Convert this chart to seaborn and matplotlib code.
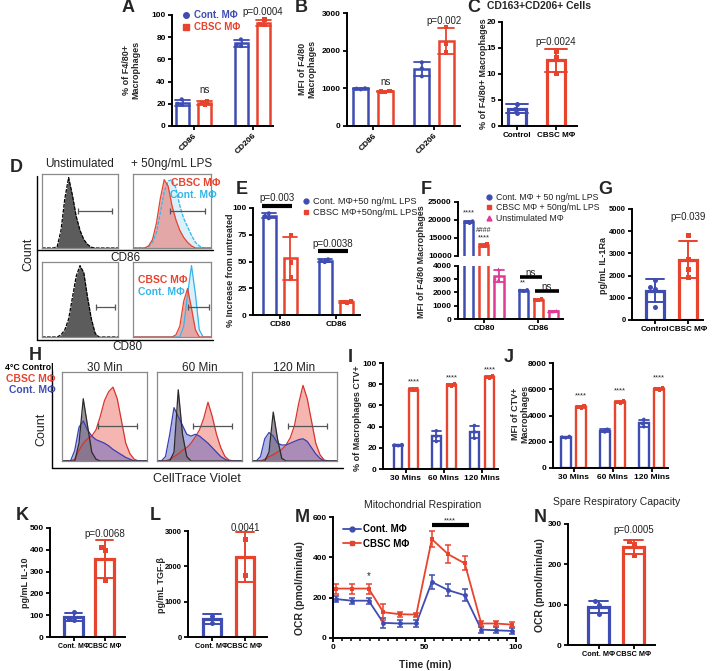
import matplotlib
matplotlib.use("Agg")
import matplotlib.pyplot as plt
import seaborn as sns
import numpy as np
import pandas as pd
from matplotlib.lines import Line2D

# ------------------------------------------------------------------ data
A_CATS = ["CD86", "CD206"]
A_CONT = [[24, 20, 19], [78, 72, 73]]
A_CBSC = [[22.5, 21, 19], [96, 92, 91]]

B_CATS = ["CD86", "CD206"]
B_CONT = [[1000, 990, 975], [1690, 1530, 1320]]
B_CBSC = [[930, 915, 905], [2620, 2190, 1950]]

C_CATS = ["Control", "CBSC MΦ"]
C_VALS = [[4.2, 3.35, 2.5], [14.4, 13.3, 10.2]]

E_CATS = ["CD80", "CD86"]
E_CONT = [[95, 92.5, 90.5], [52, 51, 49.5]]
E_CBSC = [[75, 49, 35], [13, 12.5, 11]]

F_CATS = ["CD80", "CD86"]
F_CONT = [[19700, 19400, 19100], [2200, 2150, 2100]]
F_CBSC = [[13300, 12900, 12600], [1500, 1450, 1400]]
F_UNST = [[3750, 3050, 2950], [620, 580, 560]]

G_CATS = ["Control", "CBSC MΦ"]
G_VALS = [[1800, 1500, 1400, 600], [3850, 2750, 2300, 1950]]

I_CATS = ["30 Mins", "60 Mins", "120 Mins"]
I_CONT = [[23, 22.5, 22], [36, 31, 26], [41, 35, 29]]
I_CBSC = [[76, 75, 74], [80, 79, 78], [87.5, 86.5, 85.5]]

J_CATS = ["30 Mins", "60 Mins", "120 Mins"]
J_CONT = [[2400, 2350, 2300], [2950, 2800, 2750], [3700, 3400, 3150]]
J_CBSC = [[4750, 4650, 4550], [5100, 5000, 4950], [6100, 6000, 5950]]

K_CATS = ["Cont. MΦ", "CBSC MΦ"]
K_VALS = [[115, 82, 79], [415, 400, 260]]

L_CATS = ["Cont. MΦ", "CBSC MΦ"]
L_VALS = [[600, 410], [2770, 1760]]

M_TIME = [1.5, 10.5, 19.5, 27.5, 36.5, 45.5, 54, 63, 72, 81, 89, 98]
M_CONT = [193, 185, 185, 75, 72, 72, 278, 237, 212, 42, 38, 35]
M_CONT_ERR = [15, 14, 14, 25, 18, 18, 35, 30, 30, 15, 15, 15]
M_CBSC = [245, 245, 245, 128, 118, 116, 490, 415, 370, 72, 72, 66]
M_CBSC_ERR = [25, 25, 25, 40, 12, 10, 40, 45, 35, 12, 12, 12]

N_CATS = ["Cont. MΦ", "CBSC MΦ"]
N_VALS = [[108, 98, 77], [257, 250, 224]]

# flow histograms (relative counts on a 0-100 fluorescence grid, step 5)
HIST_X = list(range(0, 101, 5))
D86_UNST = [0, 0, 0, 0, 0.02, 0.25, 0.7, 1.0, 0.75, 0.45, 0.25, 0.12, 0.05, 0.01, 0, 0, 0, 0, 0, 0, 0]
D86_CBSC = [0, 0, 0, 0, 0.03, 0.12, 0.35, 0.7, 0.97, 0.88, 0.6, 0.4, 0.25, 0.15, 0.08, 0.03, 0, 0, 0, 0, 0]
D86_CONT = [0, 0, 0, 0, 0.02, 0.08, 0.22, 0.5, 0.8, 0.95, 0.97, 0.85, 0.6, 0.42, 0.3, 0.18, 0.08, 0.03, 0, 0, 0]
D80_UNST = [0, 0, 0, 0, 0, 0.03, 0.1, 0.25, 0.55, 0.85, 1.0, 0.9, 0.55, 0.25, 0.05, 0, 0, 0, 0, 0, 0]
D80_CBSC = [0, 0, 0, 0, 0, 0, 0, 0, 0, 0, 0, 0.03, 0.15, 0.5, 0.68, 0.4, 0.1, 0, 0, 0, 0]
D80_CONT = [0, 0, 0, 0, 0, 0, 0, 0, 0, 0, 0, 0, 0, 0.15, 0.6, 1.0, 0.6, 0.1, 0, 0, 0]

H30_4C = [0, 0, 0, 0, 0.2, 0.7, 0.4, 0.1, 0.02, 0, 0, 0, 0, 0, 0, 0, 0, 0, 0, 0, 0]
H30_CONT = [0, 0, 0, 0.12, 0.38, 0.45, 0.35, 0.28, 0.24, 0.22, 0.2, 0.17, 0.13, 0.1, 0.07, 0.04, 0.02, 0, 0, 0, 0]
H30_CBSC = [0, 0, 0, 0.02, 0.12, 0.2, 0.25, 0.28, 0.35, 0.5, 0.68, 0.78, 0.83, 0.7, 0.45, 0.2, 0.08, 0.02, 0, 0, 0]
H60_4C = [0, 0, 0, 0, 0.1, 0.8, 0.3, 0.05, 0, 0, 0, 0, 0, 0, 0, 0, 0, 0, 0, 0, 0]
H60_CONT = [0, 0, 0.05, 0.3, 0.6, 0.5, 0.4, 0.3, 0.28, 0.3, 0.28, 0.24, 0.2, 0.15, 0.1, 0.05, 0.02, 0, 0, 0, 0]
H60_CBSC = [0, 0, 0, 0.02, 0.05, 0.08, 0.12, 0.15, 0.2, 0.27, 0.35, 0.48, 0.66, 0.5, 0.3, 0.15, 0.05, 0.01, 0, 0, 0]
H120_4C = [0, 0, 0, 0, 0.1, 0.55, 0.25, 0.03, 0, 0, 0, 0, 0, 0, 0, 0, 0, 0, 0, 0, 0]
H120_CONT = [0, 0, 0.05, 0.25, 0.32, 0.28, 0.2, 0.18, 0.18, 0.2, 0.22, 0.24, 0.25, 0.22, 0.15, 0.08, 0.03, 0, 0, 0, 0]
H120_CBSC = [0, 0, 0, 0.02, 0.05, 0.07, 0.1, 0.13, 0.18, 0.26, 0.4, 0.65, 0.85, 0.7, 0.45, 0.2, 0.07, 0.01, 0, 0, 0]

# ------------------------------------------------------------------ style
BLUE = "#3F4DB2"
RED = "#E8432D"
LBLUE = "#33B5EA"
MAG = "#E03A94"
TXT = "#222222"

sns.set_style("ticks")
plt.rcParams["font.family"] = ["Liberation Sans", "DejaVu Sans"]
plt.rcParams["axes.linewidth"] = 1.4
plt.rcParams["axes.edgecolor"] = "black"
plt.rcParams["xtick.color"] = "black"
plt.rcParams["ytick.color"] = "black"

W, H = 716, 671
fig = plt.figure(figsize=(W / 100, H / 100), dpi=100)


def axpx(x0, y0, x1, y1):
    return fig.add_axes([x0 / W, 1 - y1 / H, (x1 - x0) / W, (y1 - y0) / H])


def ftext(x, y, s, **kw):
    kw.setdefault("ha", "center")
    kw.setdefault("va", "center")
    fig.text(x / W, 1 - y / H, s, **kw)


def fline(xs, ys, **kw):
    fig.add_artist(Line2D([x / W for x in xs], [1 - y / H for y in ys],
                          transform=fig.transFigure, **kw))


def style(ax, fs=6, xfs=None):
    sns.despine(ax=ax)
    ax.tick_params(labelsize=fs, length=3, width=1.3, pad=1.5)
    if xfs:
        ax.tick_params(axis="x", labelsize=xfs)
    for t in ax.get_xticklabels() + ax.get_yticklabels():
        t.set_fontweight("bold")
    ax.set_xlabel("")
    ax.set_ylabel("")


def grouped(ax, cats, series, names, colors, markers, width, gap,
            msize=3.0, lw=1.8, cap=0.5):
    rows = []
    for name, vals in zip(names, series):
        for c, reps in zip(cats, vals):
            for v in reps:
                rows.append({"cat": c, "grp": name, "val": v})
    df = pd.DataFrame(rows)
    pal = dict(zip(names, colors))
    sns.barplot(data=df, x="cat", y="val", hue="grp", order=cats, hue_order=names,
                palette=pal, fill=False, errorbar="sd", capsize=cap, width=width,
                gap=gap, linewidth=lw, saturation=1, err_kws={"linewidth": 1.3},
                legend=False, ax=ax)
    for name, m in zip(names, markers):
        sns.swarmplot(data=df[df.grp == name], x="cat", y="val", hue="grp", order=cats,
                      hue_order=names, palette=pal, dodge=True, marker=m, size=msize,
                      legend=False, ax=ax, zorder=5)


def single(ax, cats, vals, colors, markers, width, msize=3.6, lw=2.3, cap=0.55):
    rows = []
    for c, reps in zip(cats, vals):
        for v in reps:
            rows.append({"cat": c, "val": v})
    df = pd.DataFrame(rows)
    pal = dict(zip(cats, colors))
    sns.barplot(data=df, x="cat", y="val", hue="cat", order=cats, hue_order=cats,
                palette=pal, fill=False, errorbar="sd", capsize=cap, width=width,
                linewidth=lw, saturation=1, err_kws={"linewidth": 1.4},
                legend=False, ax=ax)
    for c, col, m in zip(cats, colors, markers):
        sns.swarmplot(data=df[df.cat == c], x="cat", y="val", order=cats, color=col,
                      marker=m, size=msize, ax=ax, zorder=5)


def letter(x, y, s):
    ftext(x, y, s, fontsize=13, fontweight="bold")


def ylab(x, y, s, fs=6.5):
    ftext(x, y, s, rotation=90, fontsize=fs, fontweight="bold", linespacing=1.0)


def legend(ax, items, x, y, color_text=None, fs=7, weight="bold", spacing=0.25):
    handles = [Line2D([], [], color=c, marker=m, ls=ls, ms=ms, lw=1.3, label=l)
               for l, c, m, ls, ms in items]
    lg = ax.legend(handles=handles, loc="upper left", bbox_to_anchor=(x / W, 1 - y / H),
                   bbox_transform=fig.transFigure, frameon=False,
                   prop=dict(weight=weight, size=fs), handletextpad=0.3, borderpad=0,
                   labelspacing=spacing, handlelength=1.0 if items[0][3] == "" else 1.8,
                   borderaxespad=0)
    for t, it in zip(lg.get_texts(), items):
        t.set_color(color_text if color_text else it[1])
    return lg


# ------------------------------------------------------------------ A
axA = axpx(172, 15, 273, 126)
grouped(axA, A_CATS, [A_CONT, A_CBSC], ["Cont. MΦ", "CBSC MΦ"], [BLUE, RED], ["o", "s"],
        width=0.745, gap=0.4)
axA.set_ylim(0, 100)
axA.set_yticks(range(0, 101, 20))
axA.set_xlim(-0.364, 1.343)
axA.set_xticks([0, 1])
axA.set_xticklabels(A_CATS, rotation=45, ha="right", rotation_mode="anchor")
style(axA)
axA.text(0.19, 32, "ns", ha="center", va="center", fontsize=7, color=TXT)
axA.text(1.17, 103, "p=0.0004", ha="center", va="center", fontsize=7, color=TXT, clip_on=False)
legend(axA, [("Cont. MΦ", BLUE, "o", "", 4), ("CBSC MΦ", RED, "s", "", 4)], 181, 10)
letter(128, 8, "A")
ylab(131, 70, "% of F4/80+\nMacrophages")

# ------------------------------------------------------------------ B
axB = axpx(347, 13, 460, 126)
grouped(axB, B_CATS, [B_CONT, B_CBSC], ["Cont. MΦ", "CBSC MΦ"], [BLUE, RED], ["o", "s"],
        width=0.79, gap=0.38)
axB.set_ylim(0, 3000)
axB.set_yticks(range(0, 3001, 1000))
axB.set_xlim(-0.426, 1.426)
axB.set_xticks([0, 1])
axB.set_xticklabels(B_CATS, rotation=45, ha="right", rotation_mode="anchor")
style(axB)
axB.text(0.2, 1170, "ns", ha="center", va="center", fontsize=7, color=TXT)
axB.text(1.16, 2785, "p=0.002", ha="center", va="center", fontsize=7, color=TXT)
letter(301, 8, "B")
ylab(307, 69, "MFI of F4/80\nMacrophages")

# ------------------------------------------------------------------ C
axC = axpx(502, 22, 577, 126)
single(axC, C_CATS, C_VALS, [BLUE, RED], ["o", "s"], width=0.46)
axC.set_ylim(0, 20)
axC.set_yticks(range(0, 21, 5))
axC.set_xlim(-0.385, 1.54)
style(axC, xfs=5.8)
axC.text(1.0, 16.1, "p=0.0024", ha="center", va="center", fontsize=7, color=TXT)
letter(474, 8, "C")
ftext(487, 6, "CD163+CD206+ Cells", ha="left", fontsize=7.5, fontweight="bold")
ylab(483, 74, "% of F4/80+ Macrophages")

# ------------------------------------------------------------------ D histograms
def hist_box(ax, layers, gate_y, gate_x):
    for ys, fc, ec, alpha, ls in layers:
        ax.fill_between(HIST_X, ys, color=fc, alpha=alpha, lw=0)
        ax.plot(HIST_X, ys, color=ec, lw=0.9, ls=ls)
    ax.plot(gate_x, [gate_y, gate_y], color="#555555", lw=0.9,
            marker="|", ms=4, mew=0.9)
    ax.set_xlim(0, 100)
    ax.set_ylim(0, 1.05)
    ax.set_xticks([])
    ax.set_yticks([])
    for s in ax.spines.values():
        s.set_color("#8a8a8a")
        s.set_linewidth(0.9)


GREY_LAYER = ("#5c5c5c", "black", 1.0, (0, (3, 1)))
d1 = axpx(42, 174, 118, 248)
hist_box(d1, [(D86_UNST,) + GREY_LAYER], 0.52, [47, 92])
d2 = axpx(133, 174, 211, 248)
hist_box(d2, [(D86_CONT, LBLUE, LBLUE, 0.18, (0, (3, 1))),
              (D86_CBSC, "#E88F8C", RED, 0.75, "-")], 0.52, [48, 92])
d3 = axpx(42, 262, 118, 337)
hist_box(d3, [(D80_UNST,) + GREY_LAYER], 0.42, [71, 96])
d4 = axpx(133, 262, 211, 337)
hist_box(d4, [(D80_CONT, LBLUE, LBLUE, 0.18, "-"),
              (D80_CBSC, "#E88F8C", RED, 0.75, "-")], 0.42, [71, 97])
fline([37, 213], [250, 250], color="black", lw=1.0)
fline([37, 37], [176, 340], color="black", lw=1.0)
fline([37, 213], [340, 340], color="black", lw=1.0)
ftext(79, 164, "Unstimulated", fontsize=8.5, color=TXT)
ftext(172, 164, "+ 50ng/mL LPS", fontsize=8.5, color=TXT)
ftext(196, 183, "CBSC MΦ", fontsize=7.5, fontweight="bold", color=RED)
ftext(193, 195, "Cont. MΦ", fontsize=7.5, fontweight="bold", color=LBLUE)
ftext(163, 280, "CBSC MΦ", fontsize=7.5, fontweight="bold", color=RED)
ftext(161, 292, "Cont. MΦ", fontsize=7.5, fontweight="bold", color=LBLUE)
ftext(125, 258, "CD86", fontsize=8.5, color=TXT)
ftext(127, 347, "CD80", fontsize=8.5, color=TXT)
ftext(28, 254, "Count", rotation=90, fontsize=9, color=TXT)
letter(16, 167, "D")

# ------------------------------------------------------------------ E
axE = axpx(253, 208, 360, 315)
grouped(axE, E_CATS, [E_CONT, E_CBSC], ["Cont. MΦ+50 ng/mL LPS", "CBSC MΦ+50ng/mL LPS"],
        [BLUE, RED], ["o", "s"], width=0.75, gap=0.38)
axE.set_ylim(0, 100)
axE.set_yticks(range(0, 101, 25))
axE.set_xlim(-0.482, 1.43)
style(axE)
axE.plot([-0.32, 0.21], [102, 102], color="black", lw=3, clip_on=False, solid_capstyle="butt")
axE.text(-0.05, 109, "p=0.003", ha="center", va="center", fontsize=7, color=TXT, clip_on=False)
axE.plot([0.68, 1.21], [60, 60], color="black", lw=3, solid_capstyle="butt")
axE.text(0.95, 66, "p=0.0038", ha="center", va="center", fontsize=7, color=TXT)
legend(axE, [("Cont. MΦ+50 ng/mL LPS", BLUE, "o", "", 3.5),
             ("CBSC MΦ+50ng/mL LPS", RED, "s", "", 3.5)], 301, 197,
       color_text=TXT, fs=6.7, weight="normal", spacing=0.2)
letter(242, 190, "E")
ylab(231, 270, "% Increase from untreated")

# ------------------------------------------------------------------ F (broken axis)
F_NAMES = ["Cont. MΦ + 50 ng/mL LPS", "CBSC MΦ + 50ng/mL LPS", "Unstimulated MΦ"]
axFt = axpx(458, 202, 563, 256)
axFb = axpx(458, 266, 563, 319)
for ax in (axFt, axFb):
    grouped(ax, F_CATS, [F_CONT, F_CBSC, F_UNST], F_NAMES, [BLUE, RED, MAG],
            ["o", "s", "^"], width=0.833, gap=0.4, msize=2.6)
    ax.set_xlim(-0.48, 1.46)
axFt.set_ylim(10000, 25000)
axFt.set_yticks(range(10000, 25001, 5000))
axFb.set_ylim(0, 4000)
axFb.set_yticks(range(0, 4001, 1000))
style(axFt)
style(axFb)
axFt.spines["bottom"].set_visible(False)
axFt.tick_params(axis="x", bottom=False, labelbottom=False)
axFt.text(-0.278, 21900, "****", ha="center", va="center", fontsize=5.5)
axFt.text(0.0, 17000, "####", ha="center", va="center", fontsize=5)
axFt.text(0.0, 15000, "****", ha="center", va="center", fontsize=5.5)
axFb.text(0.722, 2750, "**", ha="center", va="center", fontsize=5.5)
axFb.plot([0.66, 1.08], [3180, 3180], color="black", lw=2.6, solid_capstyle="butt")
axFb.text(0.87, 3500, "ns", ha="center", va="center", fontsize=7, color=TXT)
axFb.plot([0.94, 1.38], [2110, 2110], color="black", lw=2.6, solid_capstyle="butt", clip_on=False)
axFb.text(1.16, 2380, "ns", ha="center", va="center", fontsize=7, color=TXT)
legend(axFt, [(F_NAMES[0], BLUE, "o", "", 3.5), (F_NAMES[1], RED, "s", "", 3.5),
              (F_NAMES[2], MAG, "^", "", 3.5)], 485, 193,
       color_text=TXT, fs=6.3, weight="normal", spacing=0.15)
letter(426, 190, "F")
ylab(421, 262, "MFI of F4/80 Macrophages")

# ------------------------------------------------------------------ G
axG = axpx(632, 209, 703, 320)
single(axG, G_CATS, G_VALS, [BLUE, RED], ["o", "s"], width=0.55)
axG.set_ylim(0, 5000)
axG.set_yticks(range(0, 5001, 1000))
axG.set_xlim(-0.7, 1.45)
style(axG, fs=5.5, xfs=5.8)
axG.text(1.0, 4640, "p=0.039", ha="center", va="center", fontsize=7, color=TXT)
letter(605, 190, "G")
ylab(603, 266, "pg/mL IL-1Ra")

# ------------------------------------------------------------------ H histograms
H_SETS = [(62, 147, "30 Min", H30_4C, H30_CONT, H30_CBSC),
          (157, 242, "60 Min", H60_4C, H60_CONT, H60_CBSC),
          (252, 337, "120 Min", H120_4C, H120_CONT, H120_CBSC)]
for x0, x1, title, h4, hc, hr in H_SETS:
    ax = axpx(x0, 372, x1, 461)
    hist_box(ax, [(hr, "#EE7B72", "#D9342B", 0.55, "-"),
                  (hc, "#5157C0", "#3A3FB0", 0.45, "-"),
                  (h4, "#7E6F82", "#2a2a2a", 0.75, "-")], 0.39, [42, 88])
    ax.set_ylim(0, 1.0)
    ftext((x0 + x1) / 2, 368, title, fontsize=8.5, color=TXT)
fline([52, 343], [468, 468], color="black", lw=1.0)
fline([52, 52], [370, 468], color="black", lw=1.0)
ftext(54, 368, "4°C Control", ha="right", fontsize=6.3, fontweight="bold", color="black")
ftext(56, 379, "CBSC MΦ", ha="right", fontsize=7.5, fontweight="bold", color=RED)
ftext(56, 390, "Cont. MΦ", ha="right", fontsize=7.5, fontweight="bold", color=BLUE)
ftext(41, 429, "Count", rotation=90, fontsize=9, color=TXT)
ftext(197, 479, "CellTrace Violet", fontsize=9, color=TXT)
letter(35, 355, "H")

# ------------------------------------------------------------------ I
axI = axpx(383, 363, 498, 469)
grouped(axI, I_CATS, [I_CONT, I_CBSC], ["Cont. MΦ", "CBSC MΦ"], [BLUE, RED], ["o", "s"],
        width=0.8, gap=0.45, msize=2.6, lw=1.7)
axI.set_ylim(0, 100)
axI.set_yticks(range(0, 101, 20))
axI.set_xlim(-0.6, 2.42)
style(axI)
for i, reps in enumerate(I_CBSC):
    axI.text(i + 0.2, np.mean(reps) + 7, "****", ha="center", va="center", fontsize=5.5)
letter(350, 357, "I")
ylab(358, 418, "% of Macrophages CTV+")

# ------------------------------------------------------------------ J
axJ = axpx(553, 363, 668, 468)
grouped(axJ, J_CATS, [J_CONT, J_CBSC], ["Cont. MΦ", "CBSC MΦ"], [BLUE, RED], ["o", "s"],
        width=0.77, gap=0.33, msize=2.6, lw=1.7)
axJ.set_ylim(0, 8000)
axJ.set_yticks(range(0, 8001, 2000))
axJ.set_xlim(-0.526, 2.42)
style(axJ)
for i, reps in enumerate(J_CBSC):
    axJ.text(i + 0.19, np.mean(reps) + 850, "****", ha="center", va="center", fontsize=5.5)
letter(509, 358, "J")
ylab(520, 414, "MFI of CTV+\nMacrophages")

# ------------------------------------------------------------------ K
axK = axpx(50, 528, 125, 637)
single(axK, K_CATS, K_VALS, [BLUE, RED], ["o", "s"], width=0.61)
axK.set_ylim(0, 500)
axK.set_yticks(range(0, 501, 100))
axK.set_xlim(-0.77, 1.65)
style(axK, xfs=5.0)
axK.text(1.0, 474, "p=0.0068", ha="center", va="center", fontsize=7, color=TXT)
letter(22, 515, "K")
ylab(26, 583, "pg/mL IL-10")

# ------------------------------------------------------------------ L
axL = axpx(188, 531, 267, 637)
single(axL, L_CATS, L_VALS, [BLUE, RED], ["o", "s"], width=0.55)
axL.set_ylim(0, 3000)
axL.set_yticks(range(0, 3001, 1000))
axL.set_xlim(-0.727, 1.67)
style(axL, fs=5.5, xfs=5.3)
axL.text(1.0, 3076, "0.0041", ha="center", va="center", fontsize=7, color=TXT, clip_on=False)
letter(155, 515, "L")
ylab(161, 585, "pg/mL TGF-β")

# ------------------------------------------------------------------ M
axM = axpx(333, 517, 516, 638)
sns.lineplot(x=M_TIME, y=M_CONT, color=BLUE, marker="o", markersize=3.5,
             markeredgewidth=0, linewidth=1.3, ax=axM)
axM.errorbar(M_TIME, M_CONT, yerr=M_CONT_ERR, fmt="none", ecolor=BLUE,
             elinewidth=1.1, capsize=2.2, capthick=1.1)
sns.lineplot(x=M_TIME, y=M_CBSC, color=RED, marker="s", markersize=3.5,
             markeredgewidth=0, linewidth=1.3, ax=axM)
axM.errorbar(M_TIME, M_CBSC, yerr=M_CBSC_ERR, fmt="none", ecolor=RED,
             elinewidth=1.1, capsize=2.2, capthick=1.1)
axM.set_xlim(0, 100)
axM.set_ylim(0, 600)
axM.set_xticks([0, 50, 100])
axM.set_xticks(range(5, 100, 5), minor=True)
axM.set_yticks(range(0, 601, 200))
style(axM)
axM.tick_params(axis="x", which="minor", length=2, width=1.1)
axM.text(19.5, 305, "*", ha="center", va="center", fontsize=7)
axM.plot([54, 74.3], [562, 562], color="black", lw=3, solid_capstyle="butt")
axM.text(64, 580, "****", ha="center", va="center", fontsize=5.5)
legend(axM, [("Cont. MΦ", BLUE, "o", "-", 3.5), ("CBSC MΦ", RED, "s", "-", 3.5)],
       343, 524, color_text="black", fs=7, weight="bold", spacing=0.5)
ftext(423, 505, "Mitochondrial Respiration", fontsize=7.5, color=TXT)
ftext(425, 665, "Time (min)", fontsize=7.5, fontweight="bold")
letter(302, 517, "M")
ylab(300, 588, "OCR (pmol/min/au)", fs=7.5)

# ------------------------------------------------------------------ N
axN = axpx(568, 524, 655, 645)
single(axN, N_CATS, N_VALS, [BLUE, RED], ["o", "s"], width=0.6)
axN.set_ylim(0, 300)
axN.set_yticks(range(0, 301, 100))
axN.set_xlim(-0.87, 1.61)
style(axN, xfs=5.3)
axN.text(1.0, 285, "p=0.0005", ha="center", va="center", fontsize=7, color=TXT)
ftext(617, 502, "Spare Respiratory Capacity", fontsize=7.5, color=TXT)
letter(540, 517, "N")
ylab(540, 585, "OCR (pmol/min/au)", fs=7.5)

fig.savefig("out.png", dpi=100)
